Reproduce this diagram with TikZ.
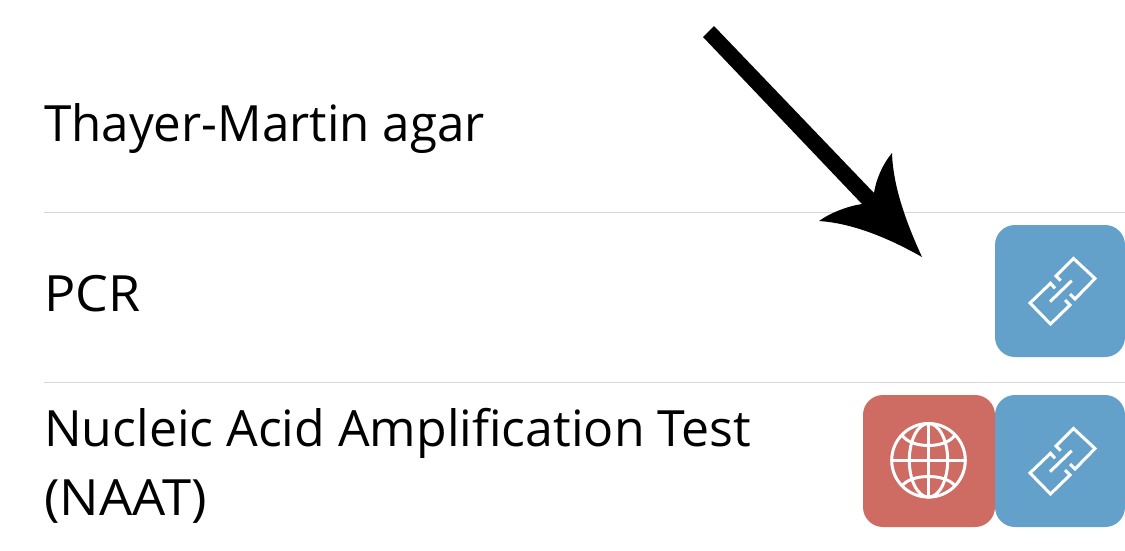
\documentclass[tikz,border=0pt]{standalone}
\usepackage{fontspec}
\setmainfont{Open Sans}
\definecolor{linkblue}{HTML}{64A1CA}
\definecolor{webred}{HTML}{CE6B63}
\definecolor{rulegrey}{HTML}{D6D6D6}
\tikzset{
  rowlabel/.style={anchor=base west,inner sep=0pt,font=\fontsize{50}{60}\selectfont,text=black},
  rowrule/.style={draw=rulegrey,line width=1pt},
  iconbox/.style={rounded corners=20pt},
  iconline/.style={draw=white,line width=3pt,line cap=butt,line join=miter},
  linkicon/.pic={
    \fill[linkblue,iconbox] (995,225) rectangle (1125,357);
    \draw[iconline] (1060.7,280.7)--(1056,276)--(1073.5,258.5)--(1095,278.5)--(1075,299)--(1070,294);
    \draw[iconline] (1055,288.3)--(1050.5,283.3)--(1030,303)--(1050.5,324)--(1070,305)--(1065,300);
    \draw[iconline] (1050,301.7)--(1071.7,280.7);
  }
}
\begin{document}
\begin{tikzpicture}[x=1pt,y=-1pt]
\useasboundingbox (0,0) rectangle (1125,550);
\fill[white] (0,0) rectangle (1125,550);
\draw[rowrule] (44,212)--(1125,212);
\draw[rowrule] (44,382)--(1125,382);
\node[rowlabel] (thayer) at (44,141) {\scalebox{0.986}[1]{Thayer-Martin agar}};
\node[rowlabel] (pcr) at (44,311) {\scalebox{1.04}[1]{PCR}};
\node[rowlabel] (naat1) at (44,446) {Nucleic Acid Amplification Test};
\node[rowlabel] (naat2) at (44,515) {\scalebox{1.05}[1]{(NAAT)}};
\pic at (0,0) {linkicon};
\pic at (0,170) {linkicon};
\fill[webred,iconbox] (863,395) rectangle (995,527);
\begin{scope}[draw=white,line width=3pt]
\draw (928.5,460.3) circle[radius=36.8];
\draw (928.5,460.3) ellipse[x radius=19.2,y radius=36.8];
\draw (928.5,423.5)--(928.5,497.1);
\draw (891.7,460.3)--(965.3,460.3);
\draw (902,435) .. controls (911,449) and (946,449) .. (955,435);
\draw (902,486) .. controls (911,473.3) and (946,473.3) .. (955,486);
\end{scope}
\fill[black] (714,26)--(703,37)--(862,204)
  .. controls (848,206) and (830,213) .. (819,221)
  .. controls (850,223) and (885,236) .. (922,257)
  .. controls (905,220) and (893,185) .. (892,153)
  .. controls (882,165) and (876,180) .. (874,193)--cycle;
\end{tikzpicture}
\end{document}
